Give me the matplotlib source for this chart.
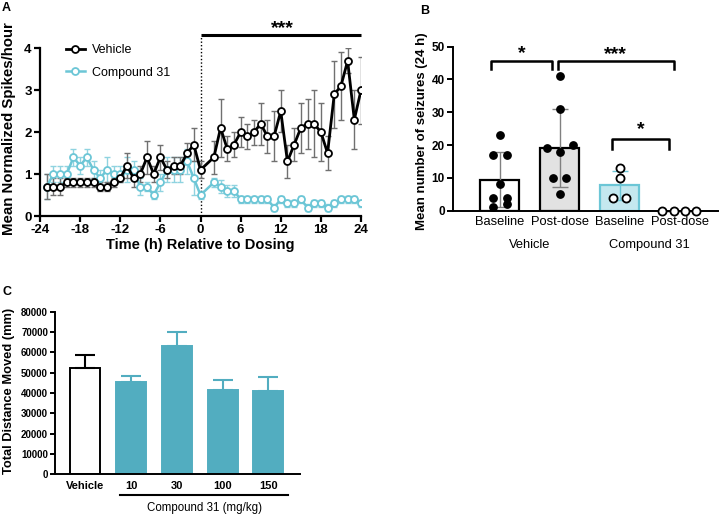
import matplotlib
matplotlib.use("Agg")
import matplotlib.pyplot as plt
import numpy as np

plt.rcParams['font.family'] = ['Liberation Sans', 'DejaVu Sans']
plt.rcParams['axes.unicode_minus'] = False

W, H = 720, 516

# ---------------- Panel A data ----------------
hours = list(range(-23, 1)) + list(range(2, 25))
veh_mean = [0.7, 0.7, 0.7, 0.8, 0.8, 0.8, 0.8, 0.8, 0.7, 0.7, 0.8, 0.9,
            1.2, 0.9, 1.0, 1.4, 1.0, 1.4, 1.1, 1.2, 1.2, 1.5, 1.7, 1.1,
            1.4, 2.1, 1.6, 1.7, 2.0, 1.9, 2.0, 2.2, 1.9, 1.9, 2.5, 1.3,
            1.7, 2.1, 2.2, 2.2, 2.0, 1.5, 2.9, 3.1, 3.7, 2.3, 3.0]
veh_err = [0.3, 0.2, 0.2, 0.1, 0.1, 0.1, 0.1, 0.1, 0.1, 0.1, 0.1, 0.1,
           0.3, 0.2, 0.2, 0.4, 0.2, 0.3, 0.2, 0.2, 0.2, 0.25, 0.4, 0.2,
           0.4, 0.7, 0.3, 0.3, 0.35, 0.3, 0.3, 0.5, 0.4, 0.6, 0.5, 0.4,
           0.4, 0.6, 0.6, 0.8, 0.7, 0.4, 0.8, 0.8, 0.3, 0.7, 0.8]
cmp_mean = [0.7, 1.0, 1.0, 1.0, 1.4, 1.2, 1.4, 1.1, 0.9, 1.1, 1.0, 1.0,
            1.1, 1.1, 0.7, 0.7, 0.5, 0.8, 1.1, 1.1, 1.1, 1.3, 0.9, 0.5,
            0.8, 0.7, 0.6, 0.6, 0.4, 0.4, 0.4, 0.4, 0.4, 0.2, 0.4, 0.3,
            0.3, 0.4, 0.2, 0.3, 0.3, 0.2, 0.3, 0.4, 0.4, 0.4, 0.3]
cmp_err = [0.3, 0.2, 0.2, 0.2, 0.2, 0.2, 0.2, 0.2, 0.2, 0.3, 0.2, 0.2,
           0.3, 0.2, 0.2, 0.1, 0.1, 0.2, 0.3, 0.3, 0.3, 0.3, 0.4, 0.1,
           0.1, 0.15, 0.15, 0.15, 0.08, 0.08, 0.08, 0.08, 0.08, 0.08, 0.08, 0.08,
           0.08, 0.08, 0.08, 0.08, 0.08, 0.08, 0.08, 0.08, 0.08, 0.08, 0.08]

# ---------------- Panel B data ----------------
b_labels = ['Baseline', 'Post-dose', 'Baseline', 'Post-dose']
b_groups = ['Vehicle', 'Compound 31']
veh_base_pts = [23, 17, 17, 8, 4, 4, 2, 1]
veh_post_pts = [41, 31, 20, 19, 18, 10, 10, 5]
cmp_base_pts = [13, 10, 4, 4]
cmp_post_pts = [0, 0, 0, 0]
# horizontal jitter of the dots (layout only)
veh_base_dx = [0, -0.12, 0.12, 0, -0.12, 0.12, 0.12, -0.12]
veh_post_dx = [0, 0, 0.22, -0.22, 0, -0.11, 0.11, 0]
cmp_base_dx = [0, 0, -0.11, 0.11]
cmp_post_dx = [-0.29, -0.095, 0.09, 0.28]

# ---------------- Panel C data ----------------
c_labels = ['Vehicle', '10', '30', '100', '150']
c_mean = [52500, 45300, 63100, 41500, 41000]
c_err = [6200, 3200, 6800, 4800, 6800]

BLACK = '#000000'
CYAN = '#6cc6d6'
CYAN_ERR = '#8fd3e0'
TEAL = '#52adc0'

fig = plt.figure(figsize=(W / 100, H / 100), dpi=100)


def rect(x0, ytop, x1, ybot):
    return [x0 / W, 1 - ybot / H, (x1 - x0) / W, (ybot - ytop) / H]


def style_axes(ax, lw=1.6):
    for s in ['top', 'right']:
        ax.spines[s].set_visible(False)
    for s in ['left', 'bottom']:
        ax.spines[s].set_linewidth(lw)


# ================= Panel A =================
axA = fig.add_axes(rect(40, 48.3, 361, 216))
style_axes(axA)
axA.errorbar(hours, veh_mean, yerr=veh_err, fmt='none', ecolor='#707070',
             elinewidth=1.0, capsize=2.5, capthick=1.0, zorder=2)
axA.errorbar(hours, cmp_mean, yerr=cmp_err, fmt='none', ecolor=CYAN_ERR,
             elinewidth=1.0, capsize=2.5, capthick=1.0, zorder=1)
axA.plot(hours, cmp_mean, '-o', color=CYAN, lw=1.8, ms=5, mfc='white',
         mec=CYAN, mew=1.3, zorder=3, label='Compound 31')
axA.plot(hours, veh_mean, '-o', color=BLACK, lw=2.0, ms=5, mfc='white',
         mec=BLACK, mew=1.3, zorder=4, label='Vehicle')
axA.set_xlim(-24, 24)
axA.set_ylim(0, 4)
axA.set_xticks(range(-24, 25, 6))
axA.set_yticks(range(0, 5))
axA.tick_params(width=1.6, length=4, labelsize=9.5, pad=2)
for t in axA.get_xticklabels() + axA.get_yticklabels():
    t.set_fontweight('bold')
axA.plot([0, 0], [0, 4.27], ls=(0, (1, 1.5)), color='k', lw=1.0,
         clip_on=False, zorder=1)
axA.plot([0, 24], [4.32, 4.32], color='k', lw=2.2, clip_on=False,
         solid_capstyle='butt')
axA.text(12.2, 4.46, '***', ha='center', va='center', fontsize=14,
         fontweight='bold')
h, l = axA.get_legend_handles_labels()
axA.legend(h[::-1], l[::-1], loc='upper left', bbox_to_anchor=(0.065, 1.055),
           frameon=False, fontsize=9, handlelength=1.5, handletextpad=0.6,
           labelspacing=0.85, borderaxespad=0)
axA.set_xlabel('Time (h) Relative to Dosing', fontsize=10.5, fontweight='bold',
               va='center')
axA.xaxis.set_label_coords(0.5, -(245 - 216) / 167.7)
axA.set_ylabel('Mean Normalized Spikes/hour', fontsize=10.8, fontweight='bold',
               va='center')
axA.yaxis.set_label_coords((9 - 40) / 321, (216 - 129) / 167.7)

# ================= Panel B =================
axB = fig.add_axes(rect(453, 46.7, 718, 210.7))
style_axes(axB, lw=1.4)
pts = [veh_base_pts, veh_post_pts, cmp_base_pts, cmp_post_pts]
dxs = [veh_base_dx, veh_post_dx, cmp_base_dx, cmp_post_dx]
means = [np.mean(p) for p in pts]
sds = [np.std(p, ddof=1) for p in pts]
faces = ['white', '#e2e2e2', '#c4e8ef', '#c4e8ef']
edges = ['black', 'black', CYAN, CYAN]
ecols = ['#808080', '#808080', CYAN, CYAN]
xb = np.arange(4)
for i in range(4):
    if means[i] > 0:
        axB.bar(xb[i], means[i], width=0.65, color=faces[i],
                edgecolor=edges[i], linewidth=1.6, zorder=1)
        axB.errorbar(xb[i], means[i], yerr=sds[i], fmt='none',
                     ecolor=ecols[i], elinewidth=1.0, capsize=6,
                     capthick=1.0, zorder=2)
for i in range(4):
    xs = xb[i] + np.array(dxs[i])
    if i < 2:
        axB.scatter(xs, pts[i], s=28, color='black', zorder=4,
                    clip_on=False)
    else:
        axB.scatter(xs, pts[i], s=34, facecolor='white', edgecolor='black',
                    linewidths=1.3, zorder=4, clip_on=False)
axB.plot([xb[3] + cmp_post_dx[0], xb[3] + cmp_post_dx[-1]], [0, 0],
         color='black', lw=1.0, zorder=3, clip_on=False)
axB.set_xlim(-0.78, 3.64)
axB.set_ylim(0, 50)
axB.set_yticks(range(0, 51, 10))
axB.set_xticks(xb)
axB.set_xticklabels(b_labels, fontsize=9.3)
axB.tick_params(axis='x', length=0, pad=4)
axB.tick_params(axis='y', width=1.4, length=4, labelsize=8.5, pad=2)
for t in axB.get_yticklabels():
    t.set_fontweight('bold')
for gx, g in zip([0.5, 2.5], b_groups):
    axB.annotate(g, xy=(gx, 0), xycoords=('data', 'axes fraction'),
                 xytext=(0, -24.5), textcoords='offset points',
                 ha='center', va='center', fontsize=9.3)
brackets = [(-0.15, 0.87, 45.7, 43.1, '*', 47.8),
            (0.97, 2.90, 45.7, 43.1, '***', 47.6),
            (1.88, 2.82, 21.8, 18.7, '*', 24.6)]
for x1, x2, ytop, yleg, lab, ylab in brackets:
    axB.plot([x1, x1, x2, x2], [yleg, ytop, ytop, yleg], color='black',
             lw=1.8, clip_on=False)
    axB.text((x1 + x2) / 2, ylab, lab, ha='center', va='center',
             fontsize=14, fontweight='bold')
axB.set_ylabel('Mean number of seizures (24 h)', fontsize=9.5,
               fontweight='bold', va='center')
axB.yaxis.set_label_coords((422 - 453) / 265, 0.486)

# ================= Panel C =================
axC = fig.add_axes(rect(55, 311.7, 300, 474.3))
style_axes(axC, lw=1.4)
xc = np.arange(len(c_labels))
cface = ['white'] + [TEAL] * 4
cedge = ['black'] + [TEAL] * 4
for i in range(len(c_labels)):
    axC.bar(xc[i], c_mean[i], width=0.655, color=cface[i],
            edgecolor=cedge[i], linewidth=1.4, zorder=1)
    axC.errorbar(xc[i], c_mean[i], yerr=[[0], [c_err[i]]], fmt='none',
                 ecolor=cedge[i], elinewidth=1.5, capsize=7, capthick=1.5,
                 zorder=2)
axC.set_xlim(-0.66, 4.69)
axC.set_ylim(0, 80000)
axC.set_yticks(range(0, 80001, 10000))
axC.set_xticks(xc)
axC.set_xticklabels(c_labels, fontsize=8, fontweight='bold')
axC.tick_params(axis='x', length=0, pad=5)
axC.tick_params(axis='y', width=1.4, length=3.5, labelsize=7, pad=1.5)
for t in axC.get_yticklabels():
    t.set_fontweight('bold')
line_y = -(495 - 474.3) / 162.6
axC.plot([0.76, 4.43], [line_y, line_y], transform=axC.get_xaxis_transform(),
         color='black', lw=1.5, clip_on=False)
axC.text(2.6, -(508 - 474.3) / 162.6, 'Compound 31 (mg/kg)',
         transform=axC.get_xaxis_transform(), ha='center', va='center',
         fontsize=8.3)
axC.set_ylabel('Total Distance Moved (mm)', fontsize=9.3, fontweight='bold',
               va='center')
axC.yaxis.set_label_coords((9 - 55) / 245, 0.51)

# Panel letters
fig.text(6 / W, 1 - 8 / H, 'A', fontsize=9, fontweight='bold',
         ha='center', va='center')
fig.text(425 / W, 1 - 11 / H, 'B', fontsize=9, fontweight='bold',
         ha='center', va='center')
fig.text(7 / W, 1 - 292 / H, 'C', fontsize=9, fontweight='bold',
         ha='center', va='center')

fig.savefig('out.png', dpi=100)
